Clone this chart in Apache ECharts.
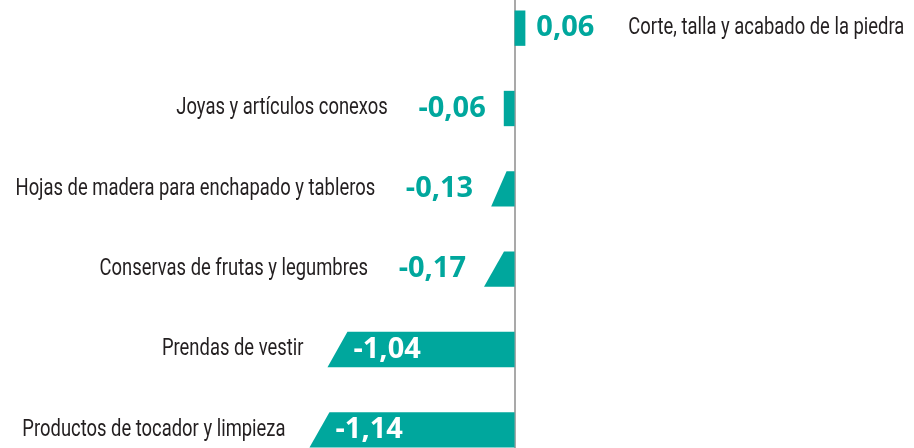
<!DOCTYPE html>
<html>
<head>
<meta charset="utf-8">
<script src="https://cdn.jsdelivr.net/npm/echarts@6/dist/echarts.min.js"></script>
<style>
  html, body { margin: 0; padding: 0; background: #fff; }
  #chart { width: 914px; height: 448px; }
</style>
</head>
<body>
<div id="chart"></div>
<script>
// categorias, de arriba hacia abajo
var categories = [
  'Corte, talla y acabado de la piedra',
  'Joyas y artículos conexos',
  'Hojas de madera para enchapado y tableros',
  'Conservas de frutas y legumbres',
  'Prendas de vestir',
  'Productos de tocador y limpieza'
];
var values = [0.06, -0.06, -0.13, -0.17, -1.04, -1.14];

var TEAL = '#00a79d';
var NAME_FONT = '23px Roboto';
var VALUE_FONT = 'bold 29px "Open Sans"';

// 0,06 en formato con coma decimal
var fmt = function (v) {
  return v.toFixed(2).replace('.', ',');
};

var nameText = function (x, y, txt, align) {
  return {
    type: 'text', x: x, y: y, scaleX: 0.8,
    style: { text: txt, font: NAME_FONT, fill: '#231f20', align: align, textAlign: align,
      verticalAlign: 'middle', textVerticalAlign: 'middle' }
  };
};
var valueText = function (x, y, txt, align, color) {
  return {
    type: 'text', x: x, y: y,
    style: { text: txt, font: VALUE_FONT, fill: color, align: align, textAlign: align,
      verticalAlign: 'middle', textVerticalAlign: 'middle' }
  };
};

var renderItem = function (params, api) {
  var idx = api.value(0);
  var v = api.value(1);
  var pz = api.coord([0, idx]);
  var pv = api.coord([v, idx]);
  var h = api.size([0, 1])[1] * 0.44;
  var cy = pz[1];
  var yt = cy - h / 2, yb = cy + h / 2;
  var children = [];
  var name = categories[idx];

  if (v >= 0) {
    children.push({ type: 'rect', shape: { x: pz[0], y: yt, width: pv[0] - pz[0], height: h }, style: { fill: TEAL } });
    children.push(valueText(pv[0] + 11, cy, fmt(v), 'left', TEAL));
    children.push(nameText(pv[0] + 103, cy, name, 'left'));
  } else {
    var x0 = pv[0];
    var w = pz[0] - x0;
    var slant = w > 14 ? Math.min(20, w - 8) : 0;
    children.push({
      type: 'polygon',
      shape: { points: [[x0, yb], [pz[0], yb], [pz[0], yt], [x0 + slant, yt]] },
      style: { fill: TEAL }
    });
    if (w > 100) {
      children.push(valueText(x0 + slant + 6, cy, fmt(v), 'left', '#fff'));
      children.push(nameText(x0 - 24, cy, name, 'right'));
    } else {
      children.push(valueText(x0 - 18, cy, fmt(v), 'right', TEAL));
      children.push(nameText(x0 - 116, cy, name, 'right'));
    }
  }
  return { type: 'group', children: children };
};

var chart = echarts.init(document.getElementById('chart'));
var option = {
  animation: false,
  grid: { left: 0, right: 0, top: -12, bottom: -22, containLabel: false, outerBoundsMode: 'none' },
  xAxis: {
    type: 'value', min: -2.86, max: 2.22,
    show: false, splitLine: { show: false }
  },
  yAxis: {
    type: 'category', inverse: true, data: categories,
    axisLabel: { show: false }, axisTick: { show: false },
    axisLine: { show: true, onZero: true, lineStyle: { color: '#8c8c8c', width: 1.5 } },
    splitLine: { show: false }
  },
  series: [{
    type: 'custom',
    renderItem: renderItem,
    encode: { x: 1, y: 0 },
    clip: false,
    data: values.map(function (v, i) { return [i, v]; })
  }]
};
chart.setOption(option);
</script>
</body>
</html>
